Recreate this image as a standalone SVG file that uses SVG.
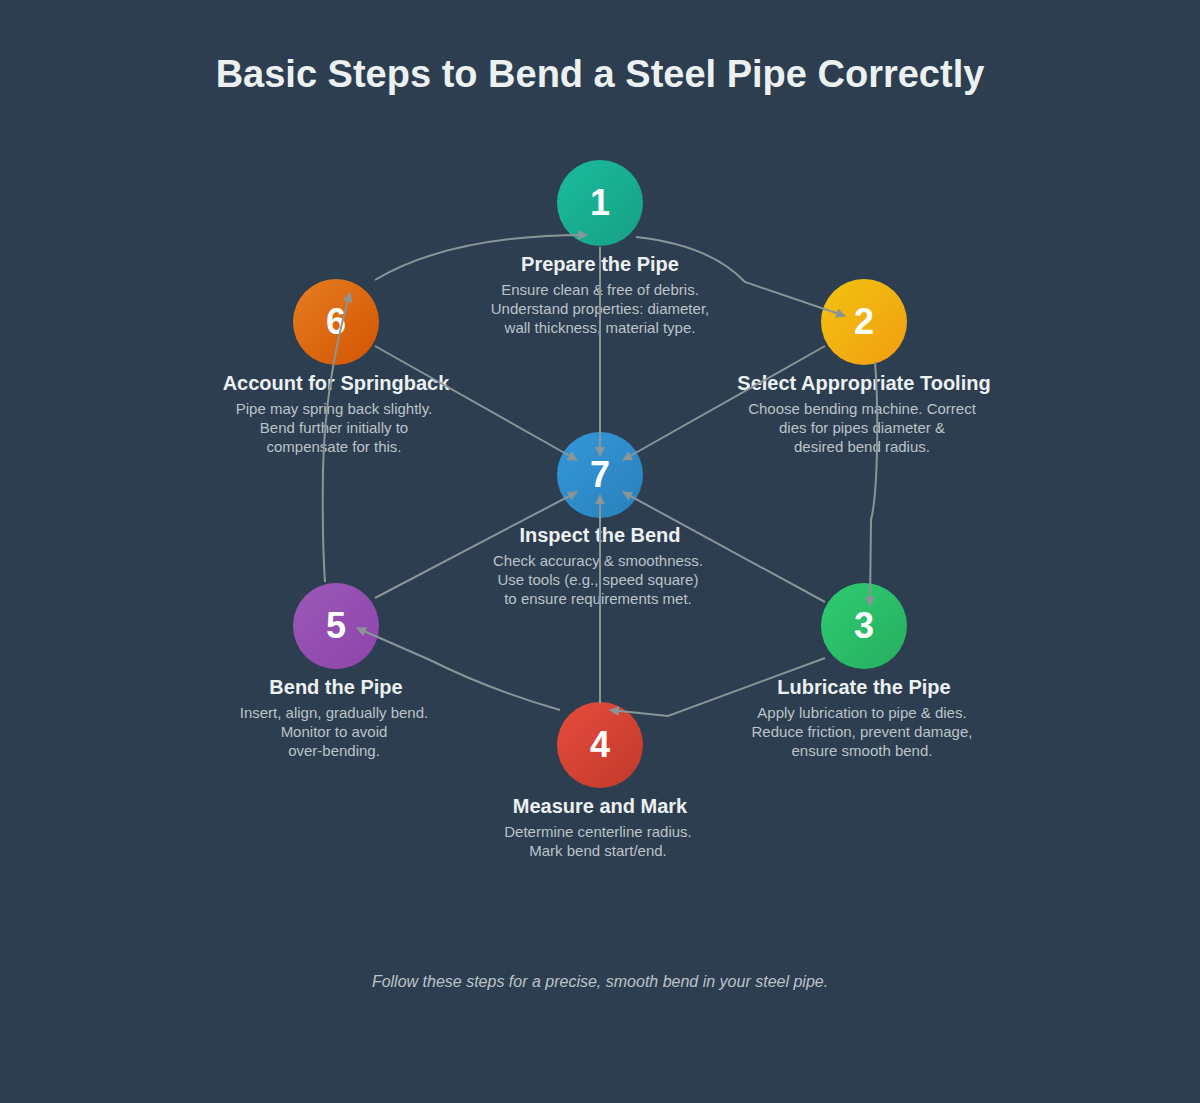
<svg xmlns="http://www.w3.org/2000/svg" width="1200" height="1103" viewBox="0 0 1200 1103">
<defs>
<marker id="ah" viewBox="0 0 10 10" refX="9" refY="5" markerWidth="10" markerHeight="10" markerUnits="userSpaceOnUse" orient="auto"><path d="M0,0L10,5L0,10z" fill="#8a9597"/></marker>
<linearGradient id="g1" x1="0" y1="0" x2="1" y2="1"><stop offset="0" stop-color="#1abc9c"/><stop offset="1" stop-color="#16a085"/></linearGradient>
<linearGradient id="g2" x1="0" y1="0" x2="1" y2="1"><stop offset="0" stop-color="#f1c40f"/><stop offset="1" stop-color="#f39c12"/></linearGradient>
<linearGradient id="g3" x1="0" y1="0" x2="1" y2="1"><stop offset="0" stop-color="#2ecc71"/><stop offset="1" stop-color="#27ae60"/></linearGradient>
<linearGradient id="g4" x1="0" y1="0" x2="1" y2="1"><stop offset="0" stop-color="#e74c3c"/><stop offset="1" stop-color="#c0392b"/></linearGradient>
<linearGradient id="g5" x1="0" y1="0" x2="1" y2="1"><stop offset="0" stop-color="#9b59b6"/><stop offset="1" stop-color="#8e44ad"/></linearGradient>
<linearGradient id="g6" x1="0" y1="0" x2="1" y2="1"><stop offset="0" stop-color="#e67e22"/><stop offset="1" stop-color="#d35400"/></linearGradient>
<linearGradient id="g7" x1="0" y1="0" x2="1" y2="1"><stop offset="0" stop-color="#3498db"/><stop offset="1" stop-color="#2980b9"/></linearGradient>
</defs>
<style>
text{font-family:"Liberation Sans",Arial,sans-serif;text-anchor:middle}
.num{font-size:36px;font-weight:bold;fill:#fff}
.t{font-size:20px;font-weight:bold;fill:#ecf0f1}
.d{font-size:15px;fill:#bdc3c7}
.c path{fill:none;stroke:#8a9597;stroke-width:2;marker-end:url(#ah)}
</style>
<rect width="1200" height="1103" fill="#2c3e50"/>
<text x="600" y="87" style="font-size:38px;font-weight:bold;fill:#ecf0f1">Basic Steps to Bend a Steel Pipe Correctly</text>
<g id="n1"><circle cx="600" cy="203" r="43" fill="url(#g1)"/><text class="num" x="600" y="215">1</text><text class="t" x="600" y="271">Prepare the Pipe</text><text class="d" x="600" y="295">Ensure clean &amp; free of debris.</text><text class="d" x="600" y="314">Understand properties: diameter,</text><text class="d" x="600" y="333">wall thickness, material type.</text></g>
<g id="n2"><circle cx="864" cy="322" r="43" fill="url(#g2)"/><text class="num" x="864" y="334">2</text><text class="t" x="864" y="390">Select Appropriate Tooling</text><text class="d" x="862" y="414">Choose bending machine. Correct</text><text class="d" x="862" y="433">dies for pipes diameter &amp;</text><text class="d" x="862" y="452">desired bend radius.</text></g>
<g id="n3"><circle cx="864" cy="626" r="43" fill="url(#g3)"/><text class="num" x="864" y="638">3</text><text class="t" x="864" y="694">Lubricate the Pipe</text><text class="d" x="862" y="718">Apply lubrication to pipe &amp; dies.</text><text class="d" x="862" y="737">Reduce friction, prevent damage,</text><text class="d" x="862" y="756">ensure smooth bend.</text></g>
<g id="n4"><circle cx="600" cy="745" r="43" fill="url(#g4)"/><text class="num" x="600" y="757">4</text><text class="t" x="600" y="813">Measure and Mark</text><text class="d" x="598" y="837">Determine centerline radius.</text><text class="d" x="598" y="856">Mark bend start/end.</text></g>
<g id="n5"><circle cx="336" cy="626" r="43" fill="url(#g5)"/><text class="num" x="336" y="638">5</text><text class="t" x="336" y="694">Bend the Pipe</text><text class="d" x="334" y="718">Insert, align, gradually bend.</text><text class="d" x="334" y="737">Monitor to avoid</text><text class="d" x="334" y="756">over-bending.</text></g>
<g id="n6"><circle cx="336" cy="322" r="43" fill="url(#g6)"/><text class="num" x="336" y="334">6</text><text class="t" x="336" y="390">Account for Springback</text><text class="d" x="334" y="414">Pipe may spring back slightly.</text><text class="d" x="334" y="433">Bend further initially to</text><text class="d" x="334" y="452">compensate for this.</text></g>
<g id="n7"><circle cx="600" cy="475" r="43" fill="url(#g7)"/><text class="num" x="600" y="487">7</text><text class="t" x="600" y="542">Inspect the Bend</text><text class="d" x="598" y="566">Check accuracy &amp; smoothness.</text><text class="d" x="598" y="585">Use tools (e.g., speed square)</text><text class="d" x="598" y="604">to ensure requirements met.</text></g>
<g class="c" id="connectors">
<path d="M636,237Q710,245 745,282L845,316"/>
<path d="M875,362Q878,400 877,450Q876,500 871,520L870,606"/>
<path d="M825,658L668,716L610,710"/>
<path d="M560,710Q490,690 430,660L357,628"/>
<path d="M325,582Q322,540 323,470Q325,380 350,293"/>
<path d="M375,280Q450,235 587,235"/>
<path d="M600,247L600,456"/>
<path d="M375,346L577,460"/>
<path d="M825,346L623,460"/>
<path d="M825,602L623,492"/>
<path d="M375,598L577,492"/>
<path d="M600,703L600,495"/>
</g>
<text x="600" y="987" style="font-size:16px;font-style:italic;fill:#bdc3c7">Follow these steps for a precise, smooth bend in your steel pipe.</text>
</svg>
